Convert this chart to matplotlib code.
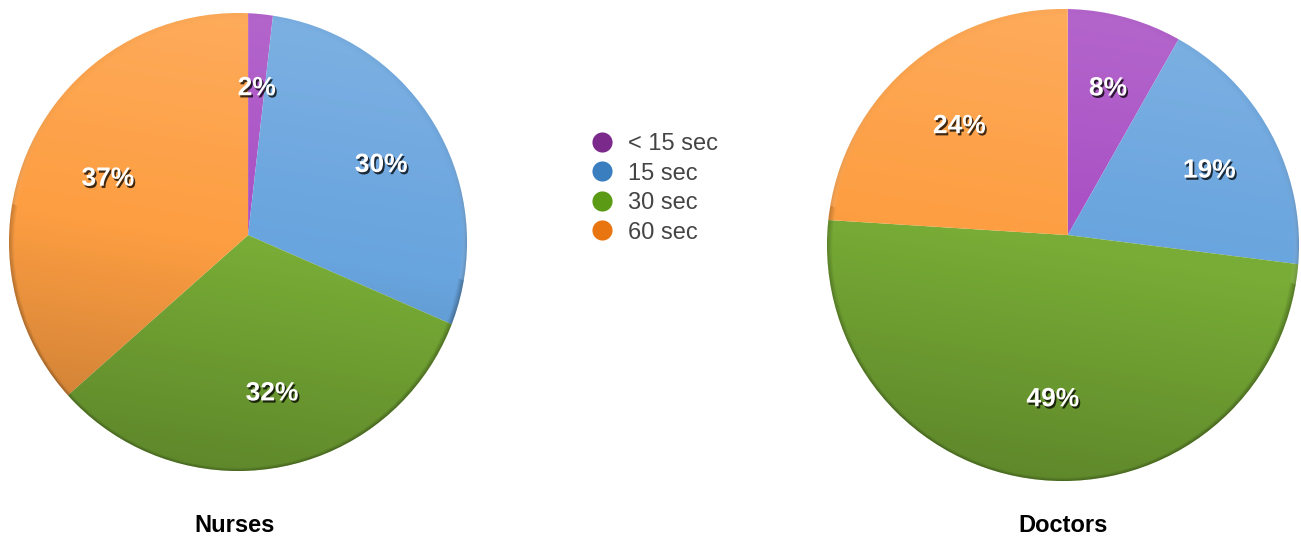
import numpy as np
import matplotlib.pyplot as plt
import matplotlib.patheffects as pe
import matplotlib.transforms as mtransforms
from matplotlib.lines import Line2D
from matplotlib.patches import Circle

plt.rcParams['font.family'] = ['Liberation Sans', 'DejaVu Sans']

categories = ["< 15 sec", "15 sec", "30 sec", "60 sec"]
nurses = [1.8, 29.8, 31.9, 36.6]
doctors = [8.2, 18.8, 49.0, 24.0]
groups = ["Nurses", "Doctors"]

wedge_colors = ["#a84ec4", "#68a4de", "#78ac36", "#fd9e42"]
legend_colors = ["#7b2a8c", "#3b7ec0", "#5a9a15", "#e8750f"]

W, H = 1301, 538
fig = plt.figure(figsize=(W / 100, H / 100), dpi=100)

# disc centre x, y (from top), radius, hub offset (the pie is drawn slightly tilted), title x
pies = [(nurses, (238, 242, 229), (0.044, 0.03), 235),
        (doctors, (1063, 245, 236), (0.02, 0.042), 1063)]

# light top to dark bottom shading, thin darker rim
n = 400
yy, xx = np.mgrid[1:-1:n * 1j, -1:1:n * 1j]
v = 0.9 * yy + 0.15 * xx
rr = np.hypot(xx, yy)
shade = np.zeros((n, n, 4))
shade[..., :3] = np.where(v[..., None] > 0, 1.0, 0.0)
shade[..., 3] = np.where(v > 0, 0.15 * v, 0.23 * -v)
rim = np.clip((rr - 0.975) / 0.025, 0, 1) * np.clip(0.6 - 0.5 * yy, 0.1, 1)
shade[..., :3] = shade[..., :3] * (1 - rim[..., None])
shade[..., 3] = np.maximum(shade[..., 3], rim * 0.4)

shadow = [pe.SimplePatchShadow(offset=(1.2, -1.6), shadow_rgbFace='black', alpha=0.75),
          pe.Normal()]

for (vals, (cx, cy, r), hub, tx), name in zip(pies, groups):
    ax = fig.add_axes([(cx - r) / W, (H - cy - r) / H, 2 * r / W, 2 * r / H])
    wedges, texts, autotexts = ax.pie(vals, colors=wedge_colors, startangle=90,
                                      counterclock=False, autopct='%.0f%%',
                                      pctdistance=0.61, radius=1.1, center=hub,
                                      wedgeprops=dict(linewidth=0), frame=False)
    ax.set_xlim(-1, 1)
    ax.set_ylim(-1, 1)
    ax.set_aspect('auto')
    ax.axis('off')
    for w in wedges:
        w.set_clip_on(True)
        w.set_clip_path(Circle((0, 0), 1, transform=ax.transData))
    im = ax.imshow(shade, extent=(-1, 1, -1, 1), zorder=5, aspect='auto')
    im.set_clip_path(Circle((0, 0), 1, transform=ax.transData))
    nudge = mtransforms.ScaledTranslation(0, -4 / 100, fig.dpi_scale_trans)
    for t in autotexts:
        t.set_color('white')
        t.set_fontsize(19)
        t.set_fontweight('bold')
        t.set_va('center_baseline')
        t.set_zorder(10)
        t.set_transform(ax.transData + nudge)
        t.set_path_effects(shadow)
    fig.text(tx / W, 1 - 525 / H, name, ha='center', va='center',
             fontsize=17, fontweight='bold', color='black')

handles = [Line2D([], [], marker='o', ls='', markersize=14.5, color=c, markeredgewidth=0)
           for c in legend_colors]
fig.legend(handles, categories, loc='upper left', bbox_to_anchor=(590 / W, 1 - 133 / H),
           frameon=False, fontsize=17, labelcolor='#444444', handletextpad=0.6,
           labelspacing=0.32, handlelength=1.0, borderpad=0, borderaxespad=0)

fig.savefig('out.png', dpi=100)
